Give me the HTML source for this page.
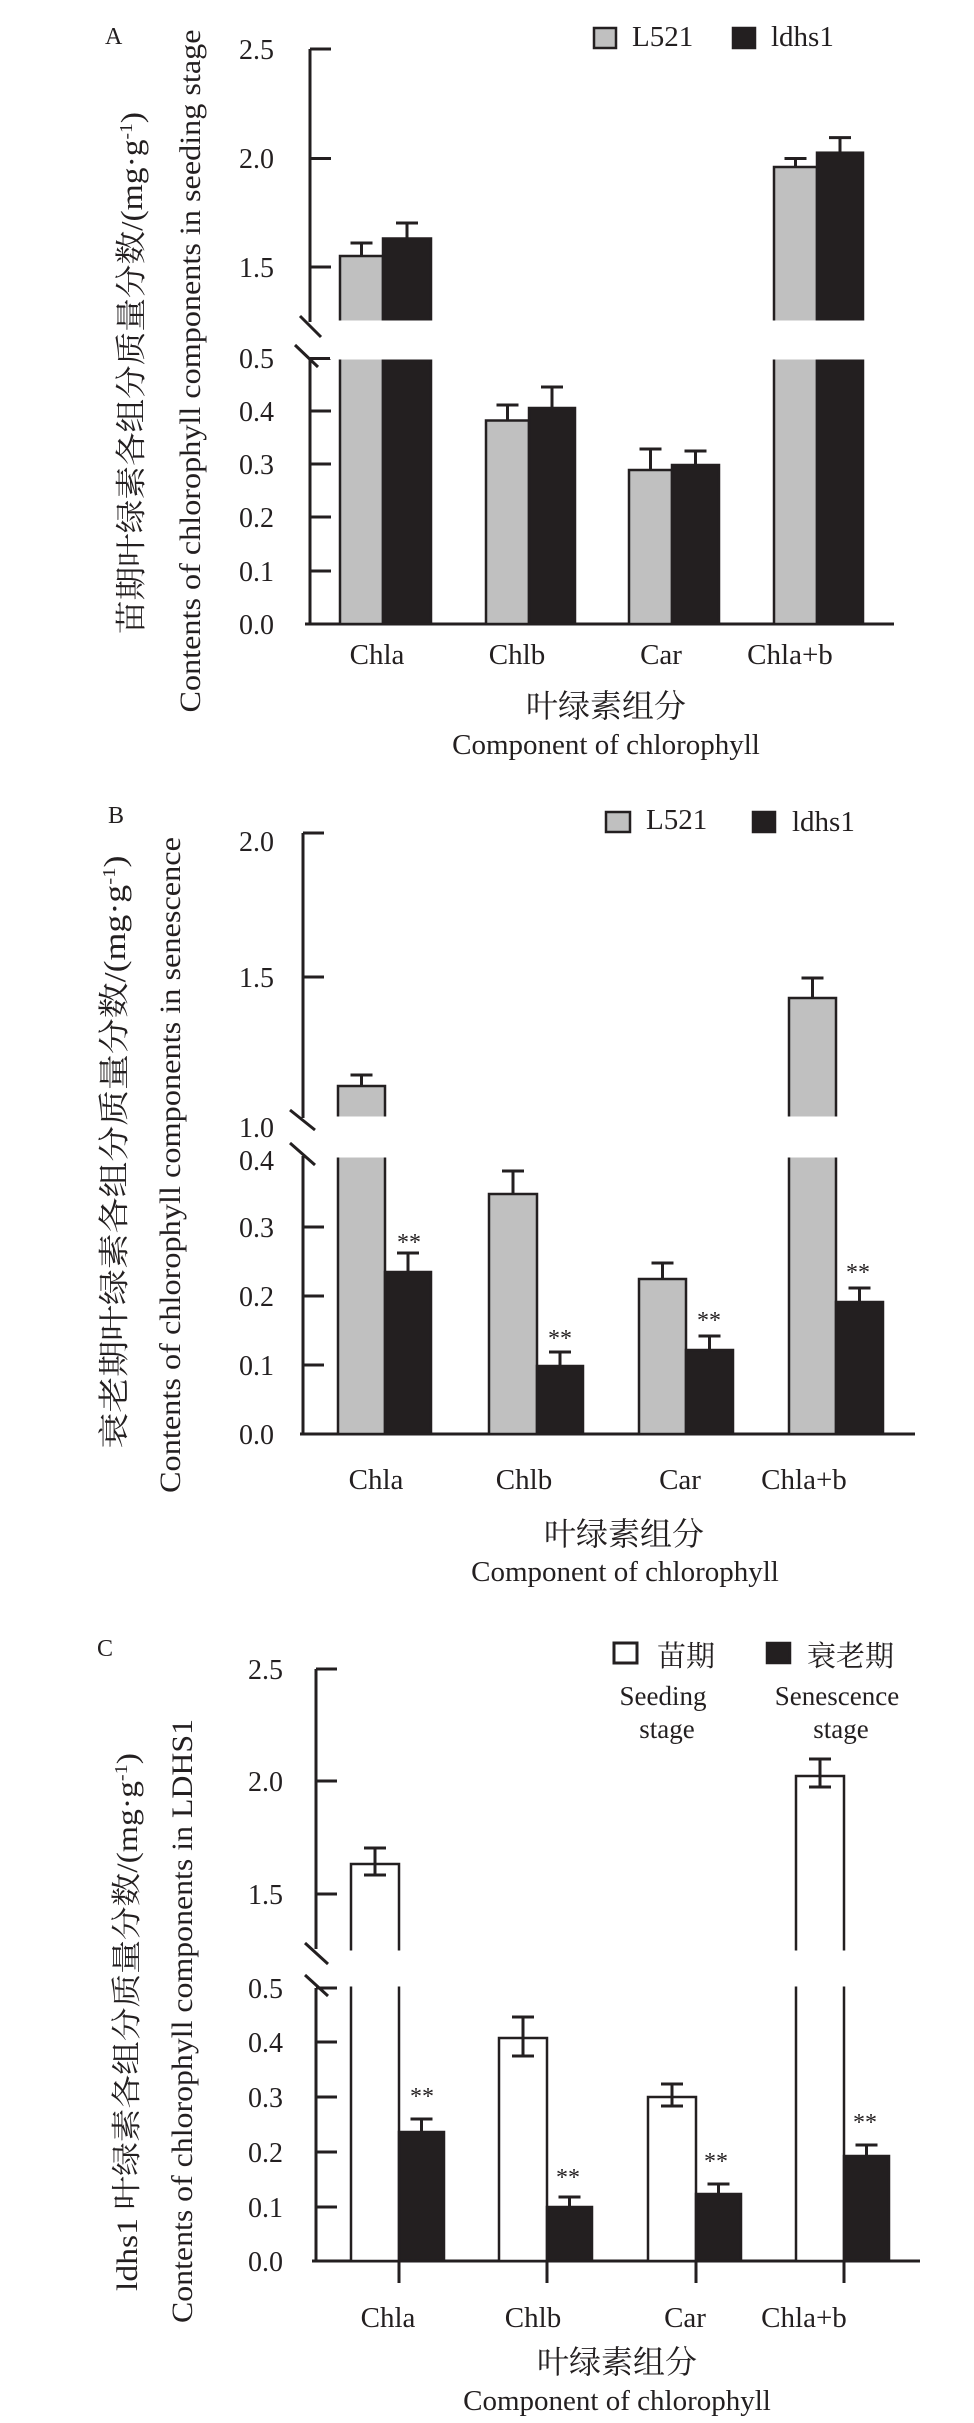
<!DOCTYPE html>
<html><head><meta charset="utf-8"><style>
html,body{margin:0;padding:0;background:#fff;}
svg{display:block;}
text{font-family:"Liberation Serif","Noto Serif CJK SC","Noto Sans CJK SC",serif;fill:#231f20;}
</style></head><body>
<svg width="974" height="2423" viewBox="0 0 974 2423" xmlns="http://www.w3.org/2000/svg">
<g stroke="#231f20" stroke-width="3" fill="none">
<!-- ===== Panel A ===== -->
<line x1="310" y1="49" x2="310" y2="322"/>
<line x1="310" y1="358" x2="310" y2="625"/>
<line x1="305" y1="624" x2="894" y2="624"/>
<line x1="310" y1="49" x2="331" y2="49"/>
<line x1="310" y1="158.5" x2="331" y2="158.5"/>
<line x1="310" y1="267" x2="331" y2="267"/>
<line x1="310" y1="358.5" x2="331" y2="358.5"/>
<line x1="310" y1="411" x2="331" y2="411"/>
<line x1="310" y1="464" x2="331" y2="464"/>
<line x1="310" y1="517" x2="331" y2="517"/>
<line x1="310" y1="571" x2="331" y2="571"/>
<line x1="300" y1="316" x2="321" y2="337"/>
<line x1="295" y1="345" x2="318" y2="367"/>
</g>
<g stroke="#231f20" stroke-width="2.5">
<rect x="340" y="256" width="43" height="66" fill="#c0c0c0"/>
<rect x="340" y="358" width="43" height="266" fill="#c0c0c0"/>
<rect x="383" y="238.5" width="48" height="83.5" fill="#231f20"/>
<rect x="383" y="358" width="48" height="266" fill="#231f20"/>
<rect x="486" y="420.5" width="43" height="203.5" fill="#c0c0c0"/>
<rect x="529" y="408" width="46" height="216" fill="#231f20"/>
<rect x="629" y="470" width="43" height="154" fill="#c0c0c0"/>
<rect x="672" y="465" width="47" height="159" fill="#231f20"/>
<rect x="774" y="167" width="43" height="155" fill="#c0c0c0"/>
<rect x="774" y="358" width="43" height="266" fill="#c0c0c0"/>
<rect x="817" y="152.7" width="46" height="169.3" fill="#231f20"/>
<rect x="817" y="358" width="46" height="266" fill="#231f20"/>
</g>
<g fill="#fff">
<rect x="330" y="320.5" width="110" height="39"/>
<rect x="765" y="320.5" width="110" height="39"/>
</g>
<g stroke="#231f20" stroke-width="3" fill="none">
<path d="M361.5 256V243M350.5 243h22M407 238.5V223M396 223h22M507.5 420.5V405M496.5 405h22M552 408V387M541 387h22M650.5 470V449M639.5 449h22M695.5 465V451M684.5 451h22M795.5 167V158.5M784.5 158.5h22M840 152.7V137.6M829 137.6h22"/>
</g>
<g font-size="28" text-anchor="end">
<text x="274" y="59">2.5</text><text x="274" y="168">2.0</text><text x="274" y="277">1.5</text>
<text x="274" y="368">0.5</text><text x="274" y="421">0.4</text><text x="274" y="474">0.3</text>
<text x="274" y="527">0.2</text><text x="274" y="581">0.1</text><text x="274" y="634">0.0</text>
</g>
<text x="105" y="44" font-size="24">A</text>
<rect x="594" y="28" width="22" height="20" fill="#c0c0c0" stroke="#231f20" stroke-width="2.5"/>
<text x="632" y="46" font-size="29">L521</text>
<rect x="733" y="28" width="22" height="20" fill="#231f20" stroke="#231f20" stroke-width="2.5"/>
<text x="771" y="46" font-size="29">ldhs1</text>
<g font-size="29" text-anchor="middle">
<text x="377" y="664">Chla</text><text x="517" y="664">Chlb</text><text x="661" y="664">Car</text><text x="790" y="664">Chla+b</text>
</g>
<text x="606" y="717" font-size="32" text-anchor="middle">叶绿素组分</text>
<text x="606" y="754" font-size="29" text-anchor="middle">Component of chlorophyll</text>
<text transform="translate(142,373) rotate(-90)" font-size="31" text-anchor="middle" textLength="522" lengthAdjust="spacingAndGlyphs">苗期叶绿素各组分质量分数/(mg·g<tspan baseline-shift="super" font-size="18">-1</tspan>)</text>
<text transform="translate(200,371) rotate(-90)" font-size="30" text-anchor="middle" textLength="683" lengthAdjust="spacingAndGlyphs">Contents of chlorophyll components in seeding stage</text>

<!-- ===== Panel B ===== -->
<g stroke="#231f20" stroke-width="3" fill="none">
<line x1="303" y1="833" x2="303" y2="1118"/>
<line x1="303" y1="1156" x2="303" y2="1435"/>
<line x1="300" y1="1434" x2="915" y2="1434"/>
<line x1="303" y1="833" x2="324" y2="833"/>
<line x1="303" y1="977" x2="324" y2="977"/>
<line x1="303" y1="1227" x2="324" y2="1227"/>
<line x1="303" y1="1296" x2="324" y2="1296"/>
<line x1="303" y1="1365" x2="324" y2="1365"/>
<line x1="290" y1="1110" x2="315" y2="1130"/>
<line x1="290" y1="1143" x2="315" y2="1165"/>
</g>
<g stroke="#231f20" stroke-width="2.5">
<rect x="338" y="1086" width="47" height="32" fill="#c0c0c0"/>
<rect x="338" y="1156" width="47" height="278" fill="#c0c0c0"/>
<rect x="385" y="1272" width="46" height="162" fill="#231f20"/>
<rect x="489" y="1194" width="48" height="240" fill="#c0c0c0"/>
<rect x="537" y="1366" width="46" height="68" fill="#231f20"/>
<rect x="639" y="1279" width="47" height="155" fill="#c0c0c0"/>
<rect x="686" y="1350" width="47" height="84" fill="#231f20"/>
<rect x="789" y="998" width="47" height="120" fill="#c0c0c0"/>
<rect x="789" y="1156" width="47" height="278" fill="#c0c0c0"/>
<rect x="836" y="1302" width="47" height="132" fill="#231f20"/>
</g>
<g fill="#fff">
<rect x="330" y="1116.5" width="60" height="41"/>
<rect x="780" y="1116.5" width="60" height="41"/>
</g>
<g stroke="#231f20" stroke-width="3" fill="none">
<path d="M361.5 1086V1075M350.5 1075h22M408 1272V1253M397 1253h22M513 1194V1171M502 1171h22M560 1366V1352M549 1352h22M662.5 1279V1263M651.5 1263h22M709.5 1350V1336M698.5 1336h22M812.5 998V978M801.5 978h22M859.5 1302V1288M848.5 1288h22"/>
</g>
<g font-size="24" text-anchor="middle">
<text x="409" y="1250">**</text><text x="560" y="1346">**</text><text x="709" y="1328">**</text><text x="858" y="1280">**</text>
</g>
<g font-size="28" text-anchor="end">
<text x="274" y="851">2.0</text><text x="274" y="987">1.5</text><text x="274" y="1137">1.0</text>
<text x="274" y="1170">0.4</text><text x="274" y="1237">0.3</text><text x="274" y="1306">0.2</text>
<text x="274" y="1375">0.1</text><text x="274" y="1444">0.0</text>
</g>
<text x="108" y="823" font-size="24">B</text>
<rect x="606" y="812" width="24" height="20" fill="#c0c0c0" stroke="#231f20" stroke-width="2.5"/>
<text x="646" y="829" font-size="29">L521</text>
<rect x="753" y="812" width="22" height="20" fill="#231f20" stroke="#231f20" stroke-width="2.5"/>
<text x="792" y="831" font-size="29">ldhs1</text>
<g font-size="29" text-anchor="middle">
<text x="376" y="1489">Chla</text><text x="524" y="1489">Chlb</text><text x="680" y="1489">Car</text><text x="804" y="1489">Chla+b</text>
</g>
<text x="624" y="1545" font-size="32" text-anchor="middle">叶绿素组分</text>
<text x="625" y="1581" font-size="29" text-anchor="middle">Component of chlorophyll</text>
<text transform="translate(125,1152) rotate(-90)" font-size="31" text-anchor="middle" textLength="593" lengthAdjust="spacingAndGlyphs">衰老期叶绿素各组分质量分数/(mg·g<tspan baseline-shift="super" font-size="18">-1</tspan>)</text>
<text transform="translate(180,1165) rotate(-90)" font-size="30" text-anchor="middle" textLength="656" lengthAdjust="spacingAndGlyphs">Contents of chlorophyll components in senescence</text>

<!-- ===== Panel C ===== -->
<g stroke="#231f20" stroke-width="3" fill="none">
<line x1="316" y1="1669" x2="316" y2="1949"/>
<line x1="316" y1="1988" x2="316" y2="2262"/>
<line x1="312" y1="2261" x2="920" y2="2261"/>
<line x1="316" y1="1669" x2="337" y2="1669"/>
<line x1="316" y1="1781" x2="337" y2="1781"/>
<line x1="316" y1="1894" x2="337" y2="1894"/>
<line x1="316" y1="1988" x2="337" y2="1988"/>
<line x1="316" y1="2042" x2="337" y2="2042"/>
<line x1="316" y1="2097" x2="337" y2="2097"/>
<line x1="316" y1="2152" x2="337" y2="2152"/>
<line x1="316" y1="2207" x2="337" y2="2207"/>
<line x1="305" y1="1943" x2="328" y2="1964"/>
<line x1="305" y1="1975" x2="328" y2="1996"/>
<line x1="399" y1="2261" x2="399" y2="2283"/>
<line x1="547" y1="2261" x2="547" y2="2283"/>
<line x1="696" y1="2261" x2="696" y2="2283"/>
<line x1="844" y1="2261" x2="844" y2="2283"/>
</g>
<g stroke="#231f20" stroke-width="2.5">
<rect x="351" y="1864" width="48" height="397" fill="#fff"/>
<rect x="399" y="2132" width="45" height="129" fill="#231f20"/>
<rect x="499" y="2038" width="48" height="223" fill="#fff"/>
<rect x="547" y="2207" width="45" height="54" fill="#231f20"/>
<rect x="648" y="2097" width="48" height="164" fill="#fff"/>
<rect x="696" y="2194" width="45" height="67" fill="#231f20"/>
<rect x="796" y="1776" width="48" height="485" fill="#fff"/>
<rect x="844" y="2156" width="45" height="105" fill="#231f20"/>
</g>
<g fill="#fff">
<rect x="349" y="1950.5" width="52" height="36"/>
<rect x="794" y="1950.5" width="52" height="36"/>
</g>
<g stroke="#231f20" stroke-width="3" fill="none">
<path d="M375 1848V1875M364 1848h22M364 1875h22"/>
<path d="M421.5 2119V2141M410.5 2119h22M410.5 2141h22"/>
<path d="M523 2017V2056M512 2017h22M512 2056h22"/>
<path d="M569.5 2197V2213M558.5 2197h22M558.5 2213h22"/>
<path d="M672 2084V2106M661 2084h22M661 2106h22"/>
<path d="M718.5 2184V2200M707.5 2184h22M707.5 2200h22"/>
<path d="M820 1759V1787M809 1759h22M809 1787h22"/>
<path d="M866.5 2145V2162M855.5 2145h22M855.5 2162h22"/>
</g>
<g font-size="24" text-anchor="middle">
<text x="422" y="2104">**</text><text x="568" y="2185">**</text><text x="716" y="2169">**</text><text x="865" y="2130">**</text>
</g>
<g font-size="28" text-anchor="end">
<text x="283" y="1679">2.5</text><text x="283" y="1791">2.0</text><text x="283" y="1904">1.5</text>
<text x="283" y="1998">0.5</text><text x="283" y="2052">0.4</text><text x="283" y="2107">0.3</text>
<text x="283" y="2162">0.2</text><text x="283" y="2217">0.1</text><text x="283" y="2271">0.0</text>
</g>
<text x="97" y="1656" font-size="24">C</text>
<rect x="614" y="1643" width="23" height="20" fill="#fff" stroke="#231f20" stroke-width="3"/>
<text x="657" y="1666" font-size="29">苗期</text>
<rect x="767" y="1643" width="23" height="20" fill="#231f20" stroke="#231f20" stroke-width="2.5"/>
<text x="807" y="1666" font-size="29">衰老期</text>
<g font-size="27" text-anchor="middle">
<text x="663" y="1705">Seeding</text><text x="667" y="1738">stage</text>
<text x="837" y="1705">Senescence</text><text x="841" y="1738">stage</text>
</g>
<g font-size="29" text-anchor="middle">
<text x="388" y="2327">Chla</text><text x="533" y="2327">Chlb</text><text x="685" y="2327">Car</text><text x="804" y="2327">Chla+b</text>
</g>
<text x="617" y="2373" font-size="32" text-anchor="middle">叶绿素组分</text>
<text x="617" y="2410" font-size="29" text-anchor="middle">Component of chlorophyll</text>
<text transform="translate(137,2022) rotate(-90)" font-size="30" text-anchor="middle" textLength="538" lengthAdjust="spacingAndGlyphs">ldhs1 叶绿素各组分质量分数/(mg·g<tspan baseline-shift="super" font-size="18">-1</tspan>)</text>
<text transform="translate(192,2021) rotate(-90)" font-size="30" text-anchor="middle" textLength="604" lengthAdjust="spacingAndGlyphs">Contents of chlorophyll components in LDHS1</text>
</svg>
</body></html>
